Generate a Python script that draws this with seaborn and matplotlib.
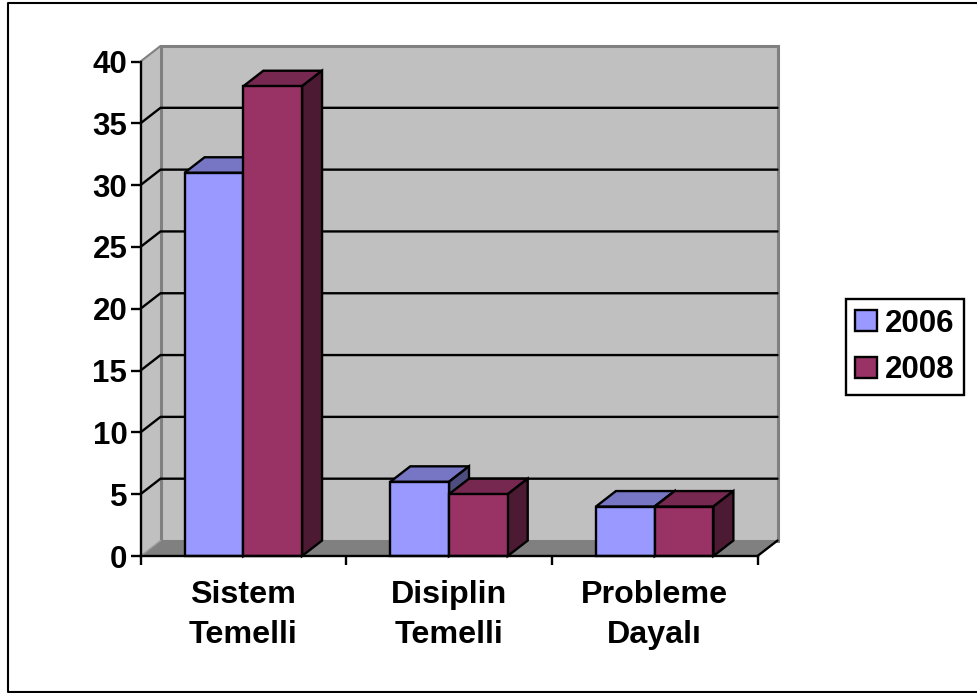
"""3D style column chart of curriculum approaches, 2006 vs 2008."""

import matplotlib.pyplot as plt
import pandas as pd
import seaborn as sns
from matplotlib.lines import Line2D
from matplotlib.patches import Polygon

categories = ["Sistem\nTemelli", "Disiplin\nTemelli", "Probleme\nDayalı"]
years = ["2006", "2008"]
values_2006 = [31, 6, 4]
values_2008 = [38, 5, 4]
y_ticks = [0, 5, 10, 15, 20, 25, 30, 35, 40]

face_colors = {"2006": "#9999FF", "2008": "#993366"}
top_colors = {"2006": "#7676C5", "2008": "#772850"}
side_colors = {"2006": "#4D4D80", "2008": "#4D1A33"}

W, H = 977, 693
LEFT, RIGHT, TOP, BOTTOM = 140.5, 757.5, 61.5, 556
DEPTH_X, DEPTH_Y = 20, 15.5  # px offset of the back wall
LW = 1.7

sns.set_style("white")
plt.rcParams["font.family"] = ["Liberation Sans", "DejaVu Sans"]
plt.rcParams["font.weight"] = "bold"
plt.rcParams["text.color"] = "black"
FONT = 22.5
X_FONT = 23.2

df = pd.DataFrame(
    {
        "category": categories * 2,
        "year": [years[0]] * 3 + [years[1]] * 3,
        "value": values_2006 + values_2008,
    }
)

fig = plt.figure(figsize=(W / 100, H / 100), dpi=100)
ax = fig.add_axes(
    [LEFT / W, 1 - BOTTOM / H, (RIGHT - LEFT) / W, (BOTTOM - TOP) / H]
)
ax.patch.set_visible(False)

sns.barplot(
    data=df,
    x="category",
    y="value",
    hue="year",
    palette=face_colors,
    width=0.571,
    gap=0,
    saturation=1,
    edgecolor="black",
    linewidth=LW,
    ax=ax,
)
ax.set_xlim(-0.5, 2.5)
ax.set_ylim(0, 40)
ax.set_xlabel("")
ax.set_ylabel("")

# depth of the fake 3D box, in data units
dx = DEPTH_X / ((RIGHT - LEFT) / 3)
dy = DEPTH_Y / ((BOTTOM - TOP) / 40)
x0, x1 = ax.get_xlim()
y1 = ax.get_ylim()[1]


def add_face(points, color, edge="black", lw=LW, zorder=1):
    ax.add_patch(
        Polygon(
            points,
            closed=True,
            facecolor=color,
            edgecolor=edge,
            linewidth=lw,
            clip_on=False,
            joinstyle="miter",
            zorder=zorder,
        )
    )


# walls and floor
add_face([(x0, 0), (x0 + dx, dy), (x0 + dx, y1 + dy), (x0, y1)], "#C0C0C0", "none", 0, 0.2)
add_face(
    [(x0 + dx, dy), (x1 + dx, dy), (x1 + dx, y1 + dy), (x0 + dx, y1 + dy)],
    "#C0C0C0",
    "#808080",
    2.2,
    0.3,
)
add_face([(x0, 0), (x1, 0), (x1 + dx, dy), (x0 + dx, dy)], "#808080", "none", 0, 0.4)
ax.plot([x1, x1 + dx], [0, dy], color="black", lw=LW, clip_on=False, zorder=0.5)
ax.plot([x0, x0 + dx], [0, dy], color="#A0A0A0", lw=1, clip_on=False, zorder=0.5)

# gridlines on the back wall and their run down the side wall
for tick in y_ticks[1:-1]:
    ax.plot(
        [x0, x0 + dx, x1 + dx],
        [tick, tick + dy, tick + dy],
        color="black",
        lw=LW,
        clip_on=False,
        zorder=0.6,
    )
ax.plot([x0, x0 + dx], [y1, y1 + dy], color="#808080", lw=1.5, clip_on=False, zorder=0.6)

# each bar gets its top and side, painted left to right
legend_handles = [c[0] for c in ax.containers]
bars = []
for year, container in zip(years, ax.containers):
    bars += [(bar, year) for bar in container]
bars.sort(key=lambda item: item[0].get_x())

for i, (bar, year) in enumerate(bars):
    left = bar.get_x()
    right = left + bar.get_width()
    height = bar.get_height()
    z = 1 + i
    add_face(
        [(left, height), (right, height), (right + dx, height + dy), (left + dx, height + dy)],
        top_colors[year],
        zorder=z,
    )
    add_face(
        [(right, 0), (right + dx, dy), (right + dx, height + dy), (right, height)],
        side_colors[year],
        zorder=z,
    )
    bar.set_zorder(z + 0.5)
    bar.set_clip_on(False)

# axes
sns.despine(ax=ax, top=True, right=True)
for side in ("left", "bottom"):
    ax.spines[side].set_linewidth(LW)
    ax.spines[side].set_color("black")
    ax.spines[side].set_zorder(50)
ax.set_yticks(y_ticks)
ax.set_xticks([0, 1, 2], categories)
ax.set_xticks([-0.5, 0.5, 1.5, 2.5], minor=True)
ax.tick_params(axis="y", length=7.5, width=LW, color="black", left=True, pad=2, labelsize=FONT, labelcolor="black")
ax.tick_params(axis="x", which="major", length=0, pad=17, labelsize=X_FONT, labelcolor="black")
ax.tick_params(axis="x", which="minor", length=6.5, width=LW, color="black", bottom=True)
for label in ax.get_xticklabels():
    label.set_linespacing(1.45)
    label.set_fontweight("bold")
for label in ax.get_yticklabels():
    label.set_fontweight("bold")

# legend box on the right
ax.get_legend().remove()
legend = fig.legend(
    legend_handles,
    years,
    loc="center left",
    bbox_to_anchor=(846 / W, 1 - 347 / H),
    fontsize=FONT,
    frameon=True,
    fancybox=False,
    framealpha=1,
    edgecolor="black",
    borderaxespad=0,
    borderpad=0.3,
    handlelength=0.68,
    handleheight=0.68,
    handletextpad=0.28,
    labelspacing=0.53,
)
legend.get_frame().set_linewidth(LW)
for text in legend.get_texts():
    text.set_fontweight("bold")
    text.set_color("black")

# outer chart border, the right side runs off the image
fig.add_artist(
    Line2D(
        [1, 8 / W, 8 / W, 1],
        [1 - 3 / H, 1 - 3 / H, 1 - 692 / H, 1 - 692 / H],
        color="black",
        lw=1.5,
    )
)

fig.savefig("out.png", dpi=100)
